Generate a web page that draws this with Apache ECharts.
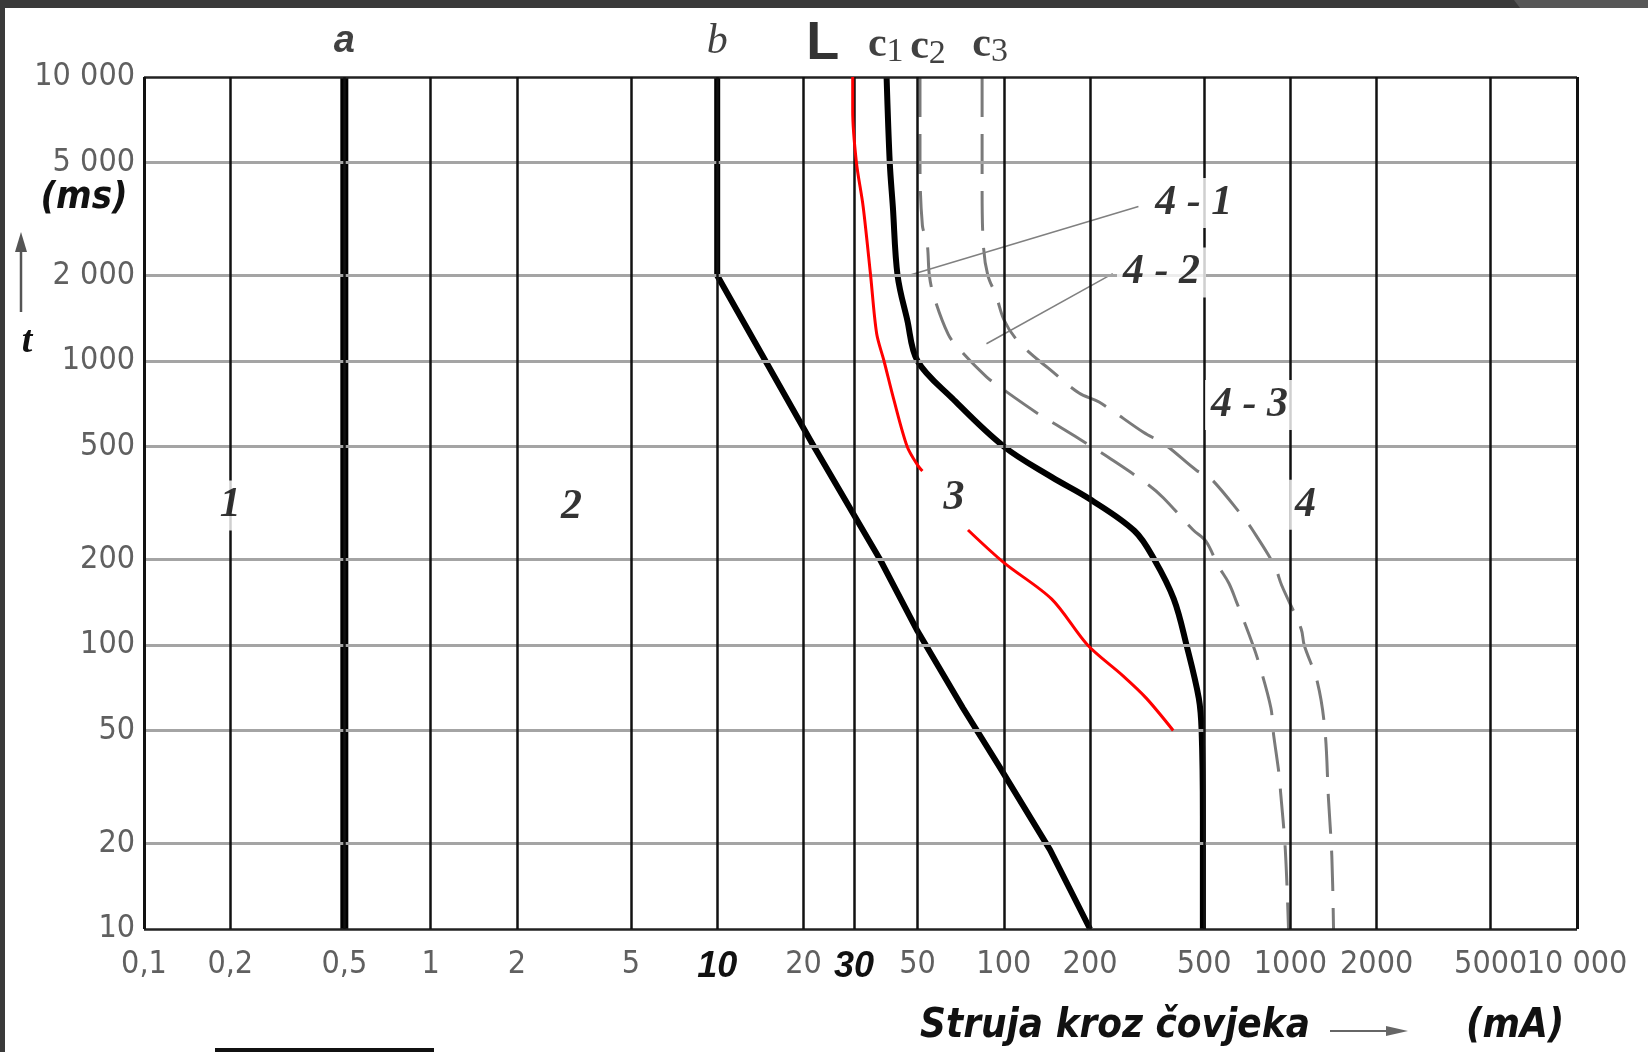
<!DOCTYPE html>
<html>
<head>
<meta charset="utf-8">
<style>
  html, body { margin: 0; padding: 0; background: #fff; }
  #chart { width: 1648px; height: 1052px; }
</style>
<script src="https://cdn.jsdelivr.net/npm/echarts@6/dist/echarts.min.js"></script>
</head>
<body>
<div id="chart"></div>
<script>
// struja kroz covjeka (mA) / vrijeme (ms)
const xTicks = [0.1, 0.2, 0.5, 1, 2, 5, 10, 20, 30, 50, 100, 200, 500, 1000, 2000, 5000, 10000]
const xTickLabels = ['0,1', '0,2', '0,5', '1', '2', '5', '10', '20', '30', '50', '100', '200', '500', '1000', '2000', '5000', '10 000']
const yTicks = [10, 20, 50, 100, 200, 500, 1000, 2000, 5000, 10000]
const yTickLabels = ['10', '20', '50', '100', '200', '500', '1000', '2 000', '5 000', '10 000']

// krivulje [mA, ms]
const curveA = [[0.5, 10], [0.5, 10000]]
const curveB = [[10, 10000], [10, 2000], [21.5, 510], [37, 200], [50, 112], [72, 60], [97, 37], [145, 19], [200, 10]]
const curveC1 = [[39, 10000], [40, 5000], [41, 3500], [42.6, 2000], [46, 1400], [50, 1000], [66, 740], [100, 500], [147, 390], [200, 326], [286, 252], [335, 200], [392, 145], [434, 100], [479, 65], [490, 50], [495, 25], [495, 10]]
const curveL1 = [[29.7, 10000], [29.7, 7600], [30.6, 5000], [32.3, 3500], [34.3, 2000], [36, 1250], [38.2, 1000], [41.2, 740], [46, 500], [50, 430], [52, 410]]
const curveL2 = [[75, 254], [100, 195], [147, 145], [196, 100], [260, 78], [314, 65], [390, 50]]
const curveC2 = [[51, 10000], [51, 5000], [52, 3000], [54, 2600], [55, 2000], [57, 1690], [64, 1240], [70, 1100], [87, 880], [102, 780], [133, 648], [157, 586], [199, 505], [237, 451], [320, 366], [360, 330], [458, 254], [507, 232], [560, 190], [610, 165], [650, 141], [740, 100], [780, 85], [855, 60], [870, 50], [913, 35], [925, 30], [960, 19], [985, 10]]
const curveC3 = [[84, 10000], [84, 4000], [85, 2500], [88, 2000], [94, 1700], [100, 1400], [110, 1200], [127, 1040], [143, 944], [183, 771], [215, 717], [307, 561], [365, 508], [472, 411], [522, 390], [677, 286], [738, 254], [880, 190], [933, 162], [1090, 114], [1117, 100], [1242, 74], [1320, 50], [1357, 29], [1395, 18], [1414, 10]]
const leader41 = [[295, 3500], [46.5, 2000]]
const leader42 = [[240, 2030], [87, 1150]]

// oznake zona
const zoneNames = ['1', '2', '3', '4', '4 - 1', '4 - 2', '4 - 3']
const zoneX = [0.2, 3.1, 67, 1130, 460, 355, 720]
const zoneY = [310, 305, 330, 312, 3600, 2050, 700]

// oznake krivulja iznad dijagrama
const topNames = ['a', 'b', 'L', 'c1', 'c2', 'c3']
const topX = [0.5, 10, 29.7, 40, 51, 84]

const tickFont = "'DejaVu Sans Condensed','Liberation Sans Narrow','Liberation Sans',sans-serif"
const serif = "'Liberation Serif','DejaVu Serif',serif"
const sans = "'Liberation Sans','DejaVu Sans',sans-serif"

const chart = echarts.init(document.getElementById('chart'))

const vLines = xTicks.map((v, i) => {
  const border = i === 0 || i === xTicks.length - 1
  const bold = xTickLabels[i] === '10' || xTickLabels[i] === '30'
  return {
    xAxis: v,
    lineStyle: { color: '#111', width: border ? 3 : 2.5, type: 'solid' },
    label: bold
      ? { formatter: xTickLabels[i], color: '#111', fontStyle: 'italic', fontWeight: 'bold', fontSize: 36, fontFamily: sans }
      : { formatter: xTickLabels[i] },
  }
})

const hLines = yTicks.map((v, i) => {
  const border = i === 0 || i === yTicks.length - 1
  return {
    yAxis: v,
    lineStyle: { color: border ? '#222' : '#a4a4a4', width: border ? 2.5 : 3, type: 'solid' },
    label: { formatter: yTickLabels[i] },
  }
})

const zoneData = zoneNames.map((n, i) => ({
  value: [zoneX[i], zoneY[i]],
  label: { formatter: n },
}))

const topRich = {
  it: { fontFamily: sans, fontStyle: 'italic', fontWeight: 'bold', fontSize: 38, color: '#111' },
  b: { fontFamily: serif, fontStyle: 'italic', fontSize: 42, color: '#111' },
  L: { fontFamily: sans, fontWeight: 'bold', fontSize: 54, color: '#000' },
  c: { fontFamily: serif, fontWeight: 'bold', fontSize: 42, color: '#111' },
  s: { fontFamily: serif, fontSize: 34, color: '#111', padding: [14, 0, 0, 0] },
}
const topFmt = { a: '{it|a}', b: '{b|b}', L: '{L|L}', c1: '{c|c}{s|1}', c2: '{c|c}{s|2}', c3: '{c|c}{s|3}' }
const topOffset = { a: [0, -8], b: [0, -6], L: [-30, 2], c1: [-4, 0], c2: [8, 2], c3: [8, 0] }
const topData = topNames.map((n, i) => ({
  value: [topX[i], 10000],
  label: { formatter: topFmt[n], offset: topOffset[n] },
}))

function curve(name, data, color, width, dashed, z, smooth) {
  return {
    name: name,
    type: 'line',
    data: data,
    symbol: 'none',
    smooth: smooth,
    z: z,
    silent: true,
    lineStyle: { color: color, width: width, type: dashed ? [40, 17] : 'solid', cap: 'butt', join: 'round' },
  }
}

chart.setOption({
  animation: false,
  backgroundColor: '#fff',
  grid: { left: 144, right: 71, top: 77, bottom: 123 },
  xAxis: {
    type: 'log', logBase: 10, min: 0.1, max: 10000,
    axisLine: { show: false }, axisTick: { show: false }, axisLabel: { show: false }, splitLine: { show: false },
  },
  yAxis: {
    type: 'log', logBase: 10, min: 10, max: 10000,
    axisLine: { show: false }, axisTick: { show: false }, axisLabel: { show: false }, splitLine: { show: false },
  },
  series: [
    {
      name: 'hgrid', type: 'line', data: [], z: 1, silent: true,
      markLine: {
        silent: true, symbol: ['none', 'none'], animation: false,
        label: { position: 'start', distance: 9, color: '#606060', fontSize: 32, fontFamily: tickFont },
        data: hLines,
      },
    },
    {
      name: 'vgrid', type: 'line', data: [], z: 2, silent: true,
      markLine: {
        silent: true, symbol: ['none', 'none'], animation: false,
        label: { position: 'start', distance: 20, color: '#606060', fontSize: 32, fontFamily: tickFont },
        data: vLines,
      },
    },
    curve('c2', curveC2, '#7a7a7a', 3, true, 3, 0.35),
    curve('c3', curveC3, '#7a7a7a', 3, true, 3, 0.35),
    curve('4-1', leader41, '#808080', 1.5, false, 3, false),
    curve('4-2', leader42, '#808080', 1.5, false, 3, false),
    curve('a', curveA, '#000', 8, false, 4, false),
    curve('b', curveB, '#000', 6, false, 4, false),
    curve('c1', curveC1, '#000', 6, false, 4, 0.35),
    curve('L1', curveL1, '#ff0000', 3, false, 5, 0.3),
    curve('L2', curveL2, '#ff0000', 3, false, 5, 0.3),
    {
      name: 'zone', type: 'scatter', symbolSize: 0, z: 10, silent: true,
      data: zoneData,
      label: {
        show: true, position: 'inside', color: '#000', fontFamily: serif, fontStyle: 'italic', fontWeight: 'bold',
        fontSize: 42, backgroundColor: '#fff', padding: [4, 6],
      },
    },
    {
      name: 'top', type: 'scatter', symbolSize: 0, z: 10, silent: true,
      data: topData,
      label: { show: true, position: 'top', distance: 8, rich: topRich },
    },
  ],
  graphic: [
    { type: 'rect', shape: { x: 0, y: 0, width: 1648, height: 8 }, style: { fill: '#3a3a3a' }, z: 100 },
    { type: 'polygon', shape: { points: [[1514, 0], [1648, 0], [1648, 8], [1520, 8]] }, style: { fill: '#575757' }, z: 101 },
    { type: 'rect', shape: { x: 0, y: 0, width: 5, height: 1052 }, style: { fill: '#3a3a3a' }, z: 100 },
    { type: 'rect', shape: { x: 215, y: 1048, width: 219, height: 4 }, style: { fill: '#111' }, z: 100 },
    {
      type: 'text', x: 84, y: 198, z: 100,
      style: { text: '(ms)', fontFamily: tickFont, fontStyle: 'italic', fontWeight: 'bold', fontSize: 38, fill: '#111', align: 'center', verticalAlign: 'middle' },
    },
    { type: 'line', shape: { x1: 21, y1: 312, x2: 21, y2: 246 }, style: { stroke: '#555', lineWidth: 2.5 }, z: 100 },
    { type: 'polygon', shape: { points: [[15, 252], [27, 252], [21, 232]] }, style: { fill: '#555' }, z: 100 },
    {
      type: 'text', x: 27, y: 342, z: 100,
      style: { text: 't', fontFamily: serif, fontStyle: 'italic', fontWeight: 'bold', fontSize: 38, fill: '#111', align: 'center', verticalAlign: 'middle' },
    },
    {
      type: 'text', x: 920, y: 1027, z: 100,
      style: { text: 'Struja kroz čovjeka', fontFamily: tickFont, fontStyle: 'italic', fontWeight: 'bold', fontSize: 40, fill: '#111', align: 'left', verticalAlign: 'middle' },
    },
    { type: 'line', shape: { x1: 1330, y1: 1031, x2: 1392, y2: 1031 }, style: { stroke: '#666', lineWidth: 2 }, z: 100 },
    { type: 'polygon', shape: { points: [[1386, 1026], [1386, 1036], [1408, 1031]] }, style: { fill: '#666' }, z: 100 },
    {
      type: 'text', x: 1466, y: 1027, z: 100,
      style: { text: '(mA)', fontFamily: tickFont, fontStyle: 'italic', fontWeight: 'bold', fontSize: 40, fill: '#111', align: 'left', verticalAlign: 'middle' },
    },
  ],
})
</script>
</body>
</html>
